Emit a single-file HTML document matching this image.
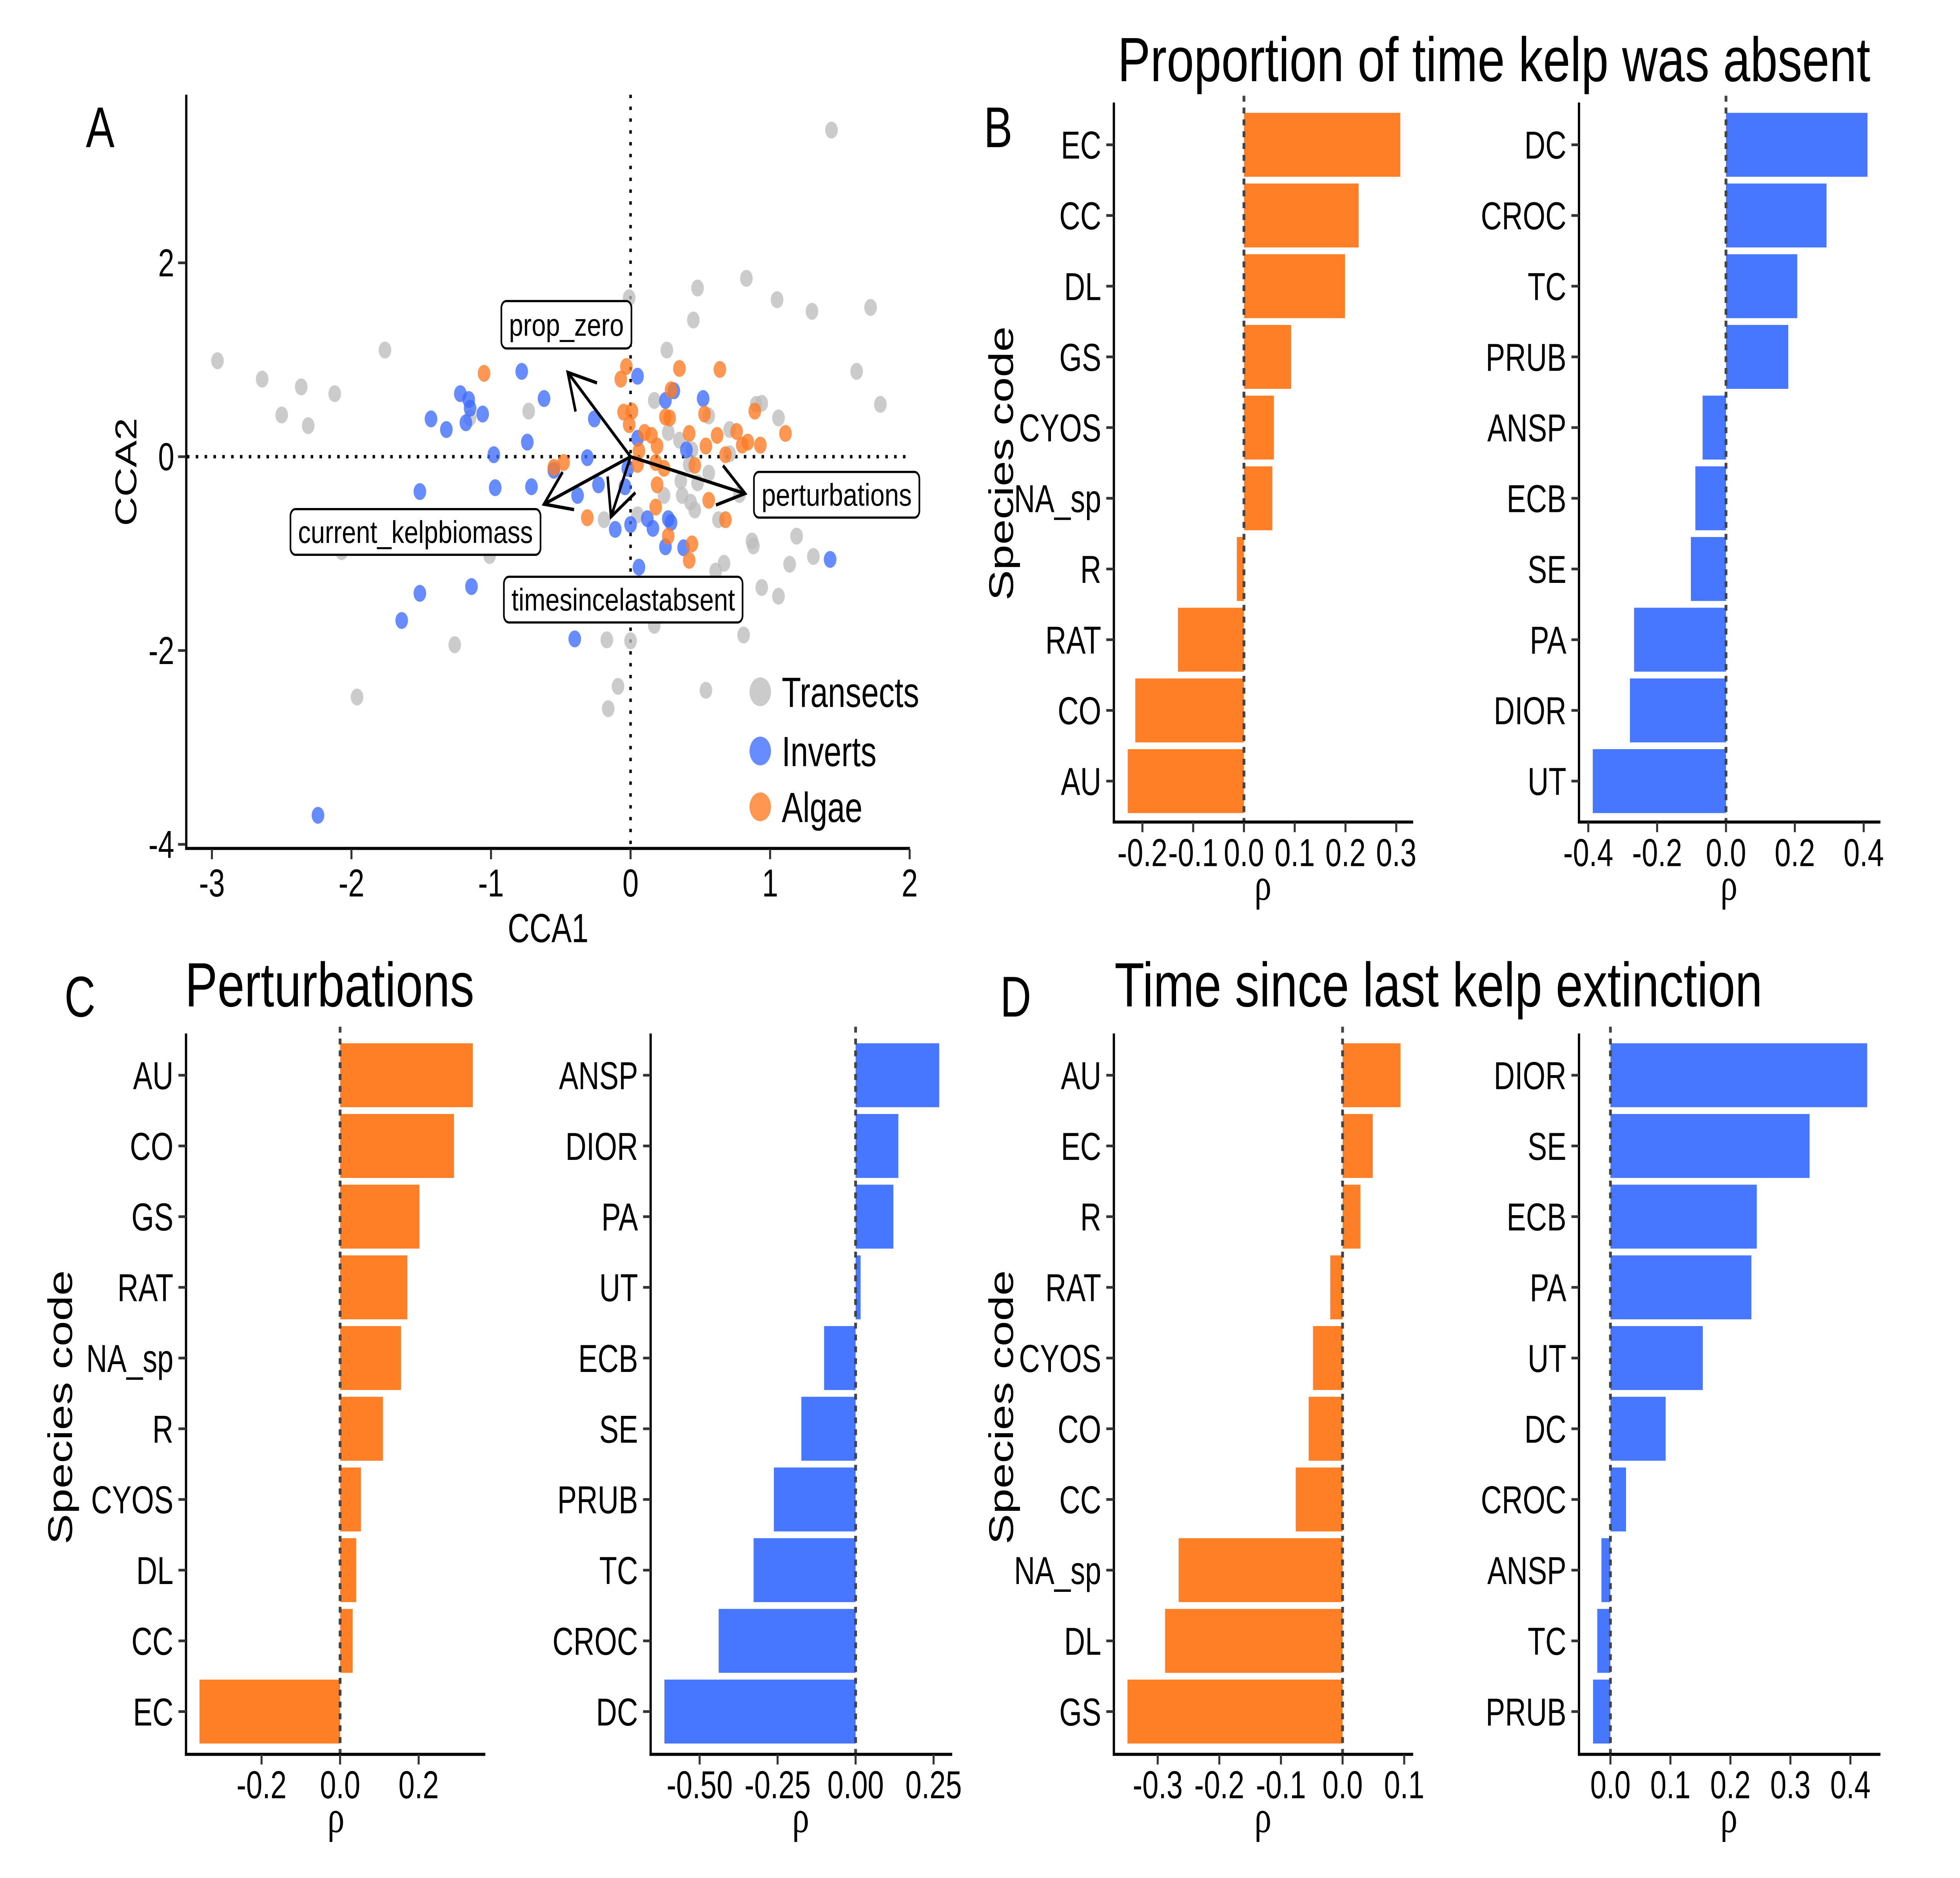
<!DOCTYPE html>
<html><head><meta charset="utf-8"><style>
html,body{margin:0;padding:0;background:#fff;width:100%;height:100%;overflow:hidden;}
svg{display:block;font-family:"Liberation Sans",Arial,sans-serif;width:100vw;height:100vh;}
</style></head><body>
<svg id="fig" xmlns="http://www.w3.org/2000/svg" viewBox="0 0 1552 1110.3" preserveAspectRatio="none">
<rect x="0" y="0" width="1552" height="1110.3" fill="#fff"/>
<g id="root">
<g id="panelA"></g>
<g id="bars"></g>
<text x="68" y="87" font-size="34">A</text>
<text x="779" y="87" font-size="34">B</text>
<text x="51" y="601" font-size="34">C</text>
<text x="792" y="601" font-size="34">D</text>
<text x="1183" y="48" font-size="37" text-anchor="middle" textLength="596" lengthAdjust="spacingAndGlyphs">Proportion of time kelp was absent</text>
<text x="261" y="595" font-size="37" text-anchor="middle" textLength="229" lengthAdjust="spacingAndGlyphs">Perturbations</text>
<text x="1139" y="595" font-size="37" text-anchor="middle" textLength="513" lengthAdjust="spacingAndGlyphs">Time since last kelp extinction</text>
<text transform="translate(802,274) rotate(-90)" font-size="27" text-anchor="middle">Species code</text>
<text transform="translate(57,832) rotate(-90)" font-size="27" text-anchor="middle">Species code</text>
<text transform="translate(802,832) rotate(-90)" font-size="27" text-anchor="middle">Species code</text>
</g>
</svg>
<script>
// ---------- Panel A data ----------
const grayX=[1.44,0.83,0.48,-0.01,1.05,1.30,1.72,0.45,-1.76,-2.96,-2.64,-2.36,-2.12,-2.50,-2.31,0.26,1.62,1.79,0.17,0.94,0.90,1.06,-0.73,-1.15,0.56,0.71,0.27,0.35,0.44,0.71,0.42,0.56,0.36,0.48,0.78,0.24,0.37,0.43,0.46,0.05,-0.19,0.63,0.87,0.88,1.19,1.31,1.14,0.67,0.61,-1.01,-2.07,0.94,1.06,0.17,-0.17,0.0,0.81,-1.26,-1.96,-0.09,0.54,-0.16];
const grayY=[3.37,1.84,1.74,1.64,1.62,1.50,1.54,1.41,1.10,0.99,0.80,0.72,0.65,0.43,0.32,1.10,0.88,0.54,0.58,0.55,0.54,0.40,0.47,0.40,0.42,0.28,0.25,0.17,0.07,0.03,-0.08,-0.17,-0.25,-0.27,-0.39,-0.40,-0.40,-0.47,-0.55,-0.60,-0.65,-0.65,-0.87,-0.92,-0.82,-1.03,-1.11,-1.10,-1.18,-1.02,-0.98,-1.35,-1.44,-1.74,-1.89,-1.90,-1.84,-1.94,-2.48,-2.37,-2.41,-2.60];
const blueX=[-2.24,-1.64,-1.51,-1.14,-0.40,-1.51,-0.97,-0.98,-1.43,-1.32,-1.18,-1.22,-1.16,-1.15,-1.06,-0.78,-0.62,-0.74,-0.26,-0.31,0.05,0.25,0.31,0.52,0.05,-0.02,-0.55,-0.71,-0.23,-0.38,-0.04,0.0,-0.11,0.12,0.16,0.27,0.29,0.25,0.38,0.06,1.43,0.40];
const blueY=[-3.70,-1.69,-1.41,-1.34,-1.88,-0.36,-0.32,0.02,0.39,0.28,0.35,0.65,0.59,0.50,0.44,0.88,0.60,0.15,0.39,-0.01,0.83,0.58,0.68,0.60,0.19,-0.12,-0.14,-0.31,-0.29,-0.40,-0.31,-0.70,-0.75,-0.64,-0.74,-0.64,-0.68,-0.93,-0.94,-1.14,-1.06,0.07];
const orangeX=[-1.05,-0.03,-0.07,0.35,0.64,0.29,-0.05,0.01,-0.01,0.25,0.28,0.53,0.89,1.11,0.10,0.15,0.42,0.62,0.76,0.84,0.93,0.80,0.19,0.54,0.06,0.68,0.05,0.18,0.24,0.46,-0.48,-0.55,0.19,0.56,0.18,-0.31,0.68,0.27,0.44,0.42];
const orangeY=[0.86,0.93,0.80,0.91,0.90,0.69,0.46,0.47,0.33,0.41,0.40,0.44,0.47,0.24,0.25,0.22,0.24,0.22,0.26,0.15,0.12,0.12,0.11,0.11,0.06,0.02,-0.08,-0.06,-0.12,-0.09,-0.06,-0.11,-0.29,-0.45,-0.52,-0.63,-0.65,-0.82,-0.90,-1.07];
const arrowNames=["prop_zero","perturbations","current_kelpbiomass","timesincelastabsent"];
const arrowX=[-0.45,0.82,-0.62,-0.14];
const arrowY=[0.87,-0.38,-0.49,-0.62];
const axisTicksX=[-3,-2,-1,0,1,2];
const axisTicksY=[2,0,-2,-4];

// ---------- Bar data ----------
const bLeftCats=["EC","CC","DL","GS","CYOS","NA_sp","R","RAT","CO","AU"];
const bLeftVals=[0.308,0.226,0.199,0.093,0.059,0.056,-0.014,-0.130,-0.214,-0.229];
const bLeftTicks=[-0.2,-0.1,0.0,0.1,0.2,0.3];
const bLeftTickLabels=["-0.2","-0.1","0.0","0.1","0.2","0.3"];
const bRightCats=["DC","CROC","TC","PRUB","ANSP","ECB","SE","PA","DIOR","UT"];
const bRightVals=[0.411,0.292,0.207,0.181,-0.068,-0.089,-0.102,-0.267,-0.279,-0.387];
const bRightTicks=[-0.4,-0.2,0.0,0.2,0.4];
const bRightTickLabels=["-0.4","-0.2","0.0","0.2","0.4"];
const cLeftCats=["AU","CO","GS","RAT","NA_sp","R","CYOS","DL","CC","EC"];
const cLeftVals=[0.338,0.290,0.202,0.171,0.155,0.109,0.053,0.041,0.032,-0.358];
const cLeftTicks=[-0.2,0.0,0.2];
const cLeftTickLabels=["-0.2","0.0","0.2"];
const cRightCats=["ANSP","DIOR","PA","UT","ECB","SE","PRUB","TC","CROC","DC"];
const cRightVals=[0.268,0.137,0.121,0.016,-0.101,-0.174,-0.262,-0.327,-0.439,-0.613];
const cRightTicks=[-0.5,-0.25,0.0,0.25];
const cRightTickLabels=["-0.50","-0.25","0.00","0.25"];
const dLeftCats=["AU","EC","R","RAT","CYOS","CO","CC","NA_sp","DL","GS"];
const dLeftVals=[0.094,0.049,0.029,-0.020,-0.048,-0.055,-0.076,-0.266,-0.288,-0.349];
const dLeftTicks=[-0.3,-0.2,-0.1,0.0,0.1];
const dLeftTickLabels=["-0.3","-0.2","-0.1","0.0","0.1"];
const dRightCats=["DIOR","SE","ECB","PA","UT","DC","CROC","ANSP","TC","PRUB"];
const dRightVals=[0.428,0.332,0.244,0.235,0.154,0.092,0.026,-0.015,-0.022,-0.029];
const dRightTicks=[0.0,0.1,0.2,0.3,0.4];
const dRightTickLabels=["0.0","0.1","0.2","0.3","0.4"];

const NS="http://www.w3.org/2000/svg";
function mk(parent,tag,attrs,text){
  const e=document.createElementNS(NS,tag);
  for(const k in attrs) e.setAttribute(k,attrs[k]);
  if(text!==undefined) e.textContent=text;
  parent.appendChild(e);
  return e;
}

// ---------- Panel A ----------
(function(){
  const g=document.getElementById('panelA');
  const sx=v=>499.3+v*110.5;
  const sy=v=>270-v*57.3;
  let e;
  e=mk(g,'line',{x1:147.5,y1:56,x2:147.5,y2:502,stroke:'#000','stroke-width':1.8});
  
  
  e=mk(g,'line',{x1:146.6,y1:501.6,x2:720.5,y2:501.6,stroke:'#000','stroke-width':1.8});
  
  
  axisTicksX.forEach((t,i)=>{
    const x=sx(t);
    e=mk(g,'line',{x1:x,y1:502,x2:x,y2:508,stroke:'#333','stroke-width':1.6});
    
    
    e=mk(g,'text',{x:x,y:530,'font-size':23,'text-anchor':'middle'},String(t));
    
    
  });
  axisTicksY.forEach((t,i)=>{
    const y=sy(t);
    e=mk(g,'line',{x1:141,y1:y,x2:147,y2:y,stroke:'#333','stroke-width':1.6});
    
    
    e=mk(g,'text',{x:138,y:y+8,'font-size':23,'text-anchor':'end'},String(t));
    
    
  });
  e=mk(g,'line',{x1:148,y1:sy(0),x2:722,y2:sy(0),stroke:'#000','stroke-width':2,'stroke-dasharray':'2 5'});
  
  
  e=mk(g,'line',{x1:sx(0),y1:56,x2:sx(0),y2:501,stroke:'#000','stroke-width':2,'stroke-dasharray':'2 5'});
  
  
  const groups=[[grayX,grayY,'#bdbdbd','transect-point'],[blueX,blueY,'#3c6cff','invert-point'],[orangeX,orangeY,'#ff7a22','algae-point']];
  groups.forEach(([xs,ys,c,n])=>{
    xs.forEach((v,i)=>{
      e=mk(g,'circle',{cx:sx(v),cy:sy(ys[i]),r:5,fill:c,'fill-opacity':0.78});
      
      
    });
  });
  arrowX.forEach((v,i)=>{
    const x0=sx(0),y0=sy(0),x1=sx(v),y1=sy(arrowY[i]);
    const ang=Math.atan2(y1-y0,x1-x0);
    const L=24,a=Math.PI/6;
    const p=`M${x0},${y0}L${x1},${y1}M${x1-L*Math.cos(ang-a)},${y1-L*Math.sin(ang-a)}L${x1},${y1}L${x1-L*Math.cos(ang+a)},${y1-L*Math.sin(ang+a)}`;
    e=mk(g,'path',{d:p,stroke:'#000','stroke-width':2,fill:'none'});
    
    
  });
  const boxes=[[397,178,103,28],[597,279,131,27],[230,301,198,27],[399,341,189,27]];
  arrowNames.forEach((n,i)=>{
    const b=boxes[i];
    e=mk(g,'rect',{x:b[0],y:b[1],width:b[2],height:b[3],rx:4,fill:'#fff',stroke:'#000','stroke-width':1.3});
    
    
    e=mk(g,'text',{x:b[0]+b[2]/2,y:b[1]+b[3]/2+6.5,'font-size':18.5,'text-anchor':'middle',textLength:b[2]-12,lengthAdjust:'spacingAndGlyphs'},n);
    
    
  });
  const leg=[['Transects','#bdbdbd',409],['Inverts','#3c6cff',444],['Algae','#ff7a22',477]];
  leg.forEach(l=>{
    e=mk(g,'circle',{cx:602,cy:l[2],r:8.5,fill:l[1],'fill-opacity':0.78});
    
    
    e=mk(g,'text',{x:619,y:l[2]+9,'font-size':25},l[0]);
    
    
  });
  e=mk(g,'text',{x:434,y:557,'font-size':24,'text-anchor':'middle'},'CCA1');
  
  
  e=mk(g,'text',{x:0,y:0,'font-size':24,'text-anchor':'middle',transform:'translate(108,279) rotate(-90)'},'CCA2');
  
  
})();

// ---------- Bar panels ----------
function barPanel(id,cats,vals,ticks,tickLabels,cfg){
  const root=document.getElementById('bars');
  const g=mk(root,'g',{});
  
  
  const sx=v=>cfg.zero+v*cfg.k;
  const sy=i=>cfg.y0+i*41.8;
  let e;
  vals.forEach((v,i)=>{
    const x1=sx(0),x2=sx(v);
    e=mk(g,'rect',{x:Math.min(x1,x2),y:sy(i)-18.9,width:Math.abs(x2-x1),height:37.8,fill:cfg.color});
    
    
  });
  e=mk(g,'line',{x1:sx(0),y1:cfg.top-4,x2:sx(0),y2:cfg.bottom,stroke:'#444','stroke-width':2.2,'stroke-dasharray':'3.5 3.5'});
  
  
  e=mk(g,'line',{x1:cfg.ax,y1:cfg.top,x2:cfg.ax,y2:cfg.bottom+0.9,stroke:'#000','stroke-width':1.8});
  
  
  e=mk(g,'line',{x1:cfg.ax-0.9,y1:cfg.bottom,x2:cfg.axEnd,y2:cfg.bottom,stroke:'#000','stroke-width':1.8});
  
  
  cats.forEach((c,i)=>{
    const y=sy(i);
    e=mk(g,'line',{x1:cfg.ax-6,y1:y,x2:cfg.ax,y2:y,stroke:'#333','stroke-width':1.6});
    
    
    e=mk(g,'text',{x:cfg.ax-10,y:y+8.2,'font-size':23,'text-anchor':'end'},c);
    
    
  });
  ticks.forEach((t,i)=>{
    const x=sx(t);
    e=mk(g,'line',{x1:x,y1:cfg.bottom,x2:x,y2:cfg.bottom+6,stroke:'#333','stroke-width':1.6});
    
    
    e=mk(g,'text',{x:x,y:cfg.bottom+26,'font-size':23,'text-anchor':'middle'},tickLabels[i]);
    
    
  });
  e=mk(g,'text',{x:cfg.rho,y:cfg.bottom+46,'font-size':27,'text-anchor':'middle','font-family':'"Liberation Serif",serif'},'ρ');
  
  
}
const ORANGE='#ff7f27', BLUE='#4877ff';
barPanel('panel-b-algae',bLeftCats,bLeftVals,bLeftTicks,bLeftTickLabels,{zero:985,k:402,y0:85.6,top:60.6,bottom:486,ax:882,axEnd:1119,color:ORANGE,rho:1000});
barPanel('panel-b-inverts',bRightCats,bRightVals,bRightTicks,bRightTickLabels,{zero:1366.7,k:272.6,y0:85.6,top:60.6,bottom:486,ax:1250.3,axEnd:1489,color:BLUE,rho:1369});
barPanel('panel-c-algae',cLeftCats,cLeftVals,cLeftTicks,cLeftTickLabels,{zero:269.3,k:311,y0:635.7,top:611,bottom:1037.2,ax:147.3,axEnd:384.3,color:ORANGE,rho:266});
barPanel('panel-c-inverts',cRightCats,cRightVals,cRightTicks,cRightTickLabels,{zero:677.5,k:247,y0:635.7,top:611,bottom:1037.2,ax:515.2,axEnd:754,color:BLUE,rho:634});
barPanel('panel-d-algae',dLeftCats,dLeftVals,dLeftTicks,dLeftTickLabels,{zero:1063.1,k:488,y0:635.7,top:611,bottom:1037.2,ax:882,axEnd:1119,color:ORANGE,rho:1000});
barPanel('panel-d-inverts',dRightCats,dRightVals,dRightTicks,dRightTickLabels,{zero:1275.2,k:475,y0:635.7,top:611,bottom:1037.2,ax:1250.3,axEnd:1489,color:BLUE,rho:1369});
</script>
</body></html>
